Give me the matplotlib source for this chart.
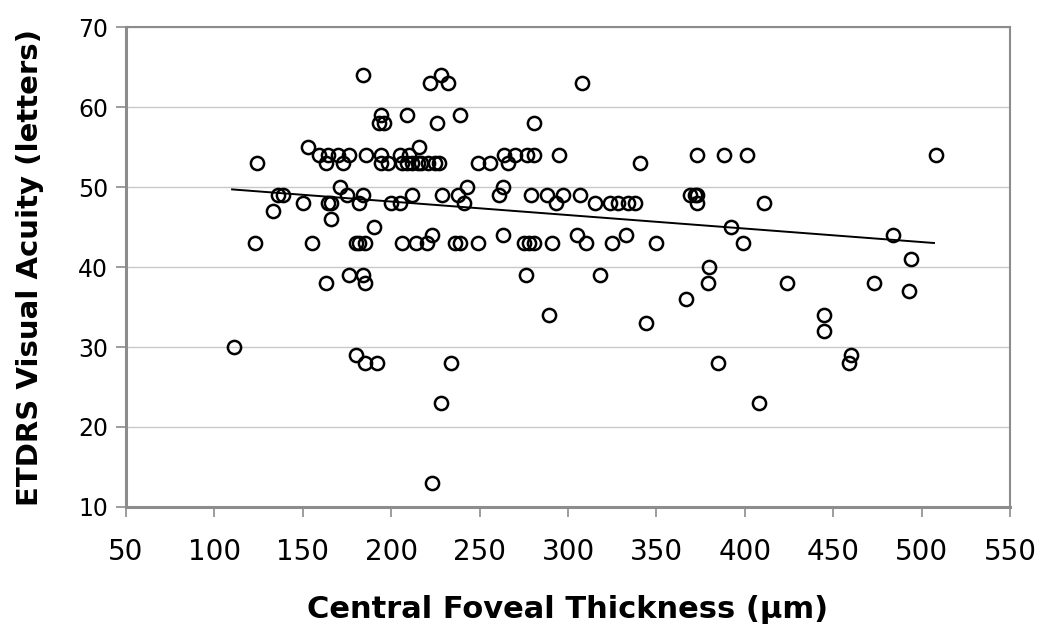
import matplotlib.pyplot as plt
import numpy as np

# Central foveal thickness (um) and ETDRS visual acuity (letters), grouped by acuity row
cft_64 = [184, 228]
cft_63 = [222, 232, 308]
cft_59 = [194, 209, 239]
cft_58 = [193, 196, 226, 281]
cft_55 = [153, 216]
cft_54 = [159, 164, 170, 176, 186, 194, 205, 210, 264, 270, 277, 281, 295, 373, 388, 401, 508]
cft_53 = [124, 163, 173, 194, 198, 206, 209, 212, 215, 217, 221, 225, 227, 249, 256, 266, 341]
cft_50 = [171, 243, 263]
cft_49 = [136, 139, 175, 184, 212, 229, 238, 261, 279, 288, 297, 307, 369, 372, 373]
cft_48 = [150, 164, 166, 182, 200, 205, 241, 293, 315, 324, 328, 334, 338, 373, 411]
cft_47 = [133]
cft_46 = [166]
cft_45 = [190, 392]
cft_44 = [223, 263, 305, 333, 484]
cft_43 = [123, 155, 180, 182, 185, 206, 214, 220, 236, 239, 249, 275, 278, 281, 291, 310, 325, 350, 399]
cft_41 = [494]
cft_40 = [380]
cft_39 = [176, 184, 276, 318]
cft_38 = [163, 185, 379, 424, 473]
cft_37 = [493]
cft_36 = [367]
cft_34 = [289, 445]
cft_33 = [344]
cft_32 = [445]
cft_30 = [111]
cft_29 = [180, 460]
cft_28 = [185, 192, 234, 385, 459]
cft_23 = [228, 408]
cft_13 = [223]

# Linha de tendencia (extremos)
tend_x = [110, 507]
tend_y = [49.7, 43.0]

grupos = {64: cft_64, 63: cft_63, 59: cft_59, 58: cft_58, 55: cft_55, 54: cft_54,
          53: cft_53, 50: cft_50, 49: cft_49, 48: cft_48, 47: cft_47, 46: cft_46,
          45: cft_45, 44: cft_44, 43: cft_43, 41: cft_41, 40: cft_40, 39: cft_39,
          38: cft_38, 37: cft_37, 36: cft_36, 34: cft_34, 33: cft_33, 32: cft_32,
          30: cft_30, 29: cft_29, 28: cft_28, 23: cft_23, 13: cft_13}

x = []
y = []
for va, lista in grupos.items():
    x += lista
    y += [va] * len(lista)

cinza = '#8c8c8c'

fig = plt.figure(figsize=(10.5, 6.33), dpi=100)
ax = fig.add_axes([126 / 1050, 1 - 507 / 633, 884 / 1050, 480 / 633])

ax.plot(x, y, 'o', markersize=9.5, markerfacecolor='none', markeredgecolor='black',
        markeredgewidth=1.8, zorder=3)
ax.plot(tend_x, tend_y, color='black', linewidth=1.4, zorder=2)

ax.set_xlim(50, 550)
ax.set_ylim(10, 70)
ax.set_xticks(np.arange(50, 551, 50))
ax.set_yticks(np.arange(10, 71, 10))
ax.yaxis.grid(True, color='#c8c8c8', linewidth=1.0)
ax.set_axisbelow(True)

for lado in ['left', 'bottom', 'top', 'right']:
    ax.spines[lado].set_color(cinza)
ax.spines['left'].set_linewidth(2.2)
ax.spines['bottom'].set_linewidth(2.2)
ax.spines['top'].set_linewidth(1.5)
ax.spines['right'].set_linewidth(1.5)

ax.tick_params(axis='both', direction='out', length=7, width=1.2, color=cinza)
ax.tick_params(axis='y', labelsize=17, pad=6)
ax.tick_params(axis='x', labelsize=20, pad=15)

ax.set_ylabel('ETDRS Visual Acuity (letters)', fontsize=21, fontweight='bold')
ax.yaxis.set_label_coords(-0.093, 0.5)
ax.set_xlabel('Central Foveal Thickness (µm)', fontsize=22, fontweight='bold', labelpad=21)

plt.savefig('out.png', dpi=100)
